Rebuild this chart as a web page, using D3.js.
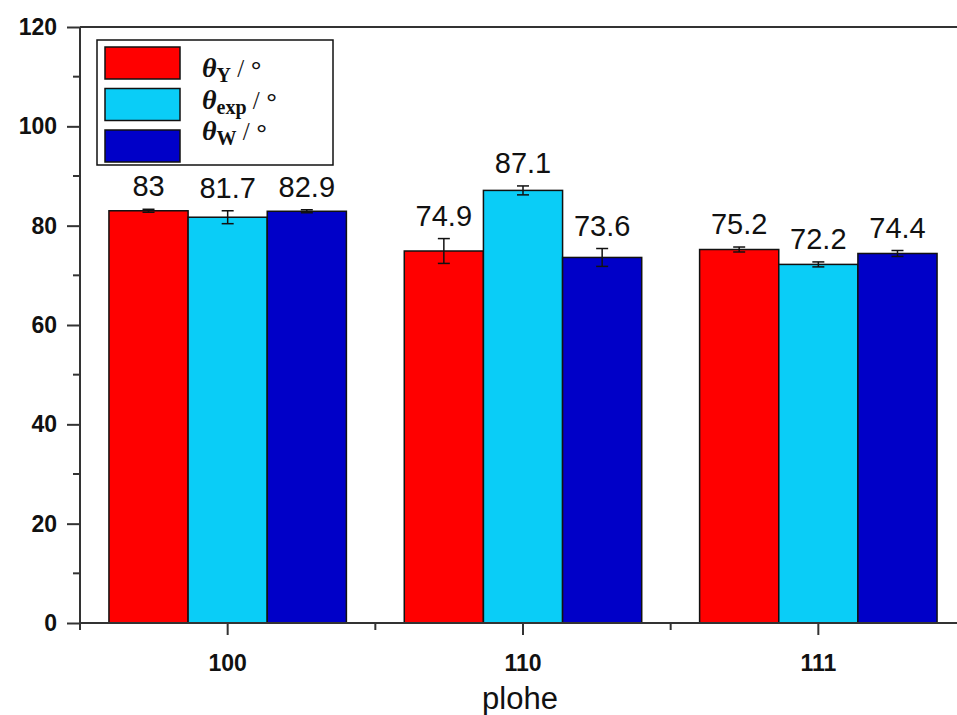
<!DOCTYPE html>
<html>
<head>
<meta charset="utf-8">
<script src="https://cdn.jsdelivr.net/npm/d3@7"></script>
<style>
  body { margin: 0; background: #fff; }
  svg { display: block; }
</style>
</head>
<body>
<svg width="957" height="715"></svg>
<script>
// Data
const categories = ["100", "110", "111"];
const seriesNames = ["Y", "exp", "W"];
const seriesColors = ["#ff0000", "#0acdf7", "#0000c8"];
const thetaY = [83, 74.9, 75.2];
const thetaExp = [81.7, 87.1, 72.2];
const thetaW = [82.9, 73.6, 74.4];
const errY = [0.3, 2.5, 0.5];
const errExp = [1.3, 0.9, 0.5];
const errW = [0.3, 1.8, 0.6];
const yTicks = [0, 20, 40, 60, 80, 100, 120];

const values = [thetaY, thetaExp, thetaW];
const errors = [errY, errExp, errW];

const svg = d3.select("svg");
const plotLeft = 80, plotTop = 27, plotBottom = 623, plotRight = 966;

const y = d3.scaleLinear().domain([0, 120]).range([plotBottom, plotTop]);
const x0 = d3.scaleBand().domain(categories).range([plotLeft, plotRight])
  .paddingInner(0.196).paddingOuter(0.098);
const x1 = d3.scaleBand().domain(seriesNames).range([0, x0.bandwidth()]);

// bars
const rows = [];
categories.forEach((c, i) => {
  seriesNames.forEach((s, j) => {
    rows.push({ c: c, s: s, j: j, v: values[j][i], e: errors[j][i] });
  });
});
const cx = d => x0(d.c) + x1(d.s) + x1.bandwidth() / 2;

const g = svg.append("g");
g.selectAll("rect.bar")
  .data(rows)
  .enter()
  .append("rect")
  .attr("class", "bar")
  .attr("x", d => x0(d.c) + x1(d.s))
  .attr("y", d => y(d.v))
  .attr("width", x1.bandwidth())
  .attr("height", d => y(0) - y(d.v))
  .attr("fill", d => seriesColors[d.j])
  .attr("stroke", "#111")
  .attr("stroke-width", 1.5);

// error bars
const eb = g.selectAll("g.err")
  .data(rows)
  .enter()
  .append("g")
  .attr("class", "err")
  .attr("stroke", "#111")
  .attr("stroke-width", 1.5);
eb.append("line")
  .attr("x1", cx).attr("x2", cx)
  .attr("y1", d => y(d.v + d.e))
  .attr("y2", d => y(d.v - d.e));
[1, -1].forEach(sign => {
  eb.append("line")
    .attr("x1", d => cx(d) - 6)
    .attr("x2", d => cx(d) + 6)
    .attr("y1", d => y(d.v + sign * d.e))
    .attr("y2", d => y(d.v + sign * d.e));
});

// value labels
g.selectAll("text.val")
  .data(rows)
  .enter()
  .append("text")
  .attr("class", "val")
  .attr("x", cx)
  .attr("y", d => y(d.v + d.e) - 13)
  .attr("text-anchor", "middle")
  .attr("font-family", "Liberation Sans, Arial, sans-serif")
  .attr("font-size", 29)
  .attr("fill", "#111")
  .text(d => d.v);

// axes
const axisColor = "#333";
const tickFont = sel => sel
  .attr("font-family", "Liberation Sans, Arial, sans-serif")
  .attr("font-weight", "bold")
  .attr("font-size", 23)
  .attr("fill", "#111");

const yAxis = svg.append("g")
  .attr("transform", `translate(${plotLeft},0)`)
  .call(d3.axisLeft(y).tickValues(yTicks).tickSize(13).tickPadding(10).tickFormat(d3.format("d")));
yAxis.select(".domain").remove();
yAxis.selectAll("line").attr("stroke", axisColor).attr("stroke-width", 2);
yAxis.selectAll("text").call(tickFont);

const minorY = d3.range(10, 120, 20);
svg.append("g").selectAll("line")
  .data(minorY)
  .enter()
  .append("line")
  .attr("x1", plotLeft - 7).attr("x2", plotLeft)
  .attr("y1", d => y(d)).attr("y2", d => y(d))
  .attr("stroke", axisColor).attr("stroke-width", 2);

// y axis line + top frame
svg.append("line")
  .attr("x1", plotLeft).attr("x2", plotLeft)
  .attr("y1", plotTop).attr("y2", plotBottom + 7)
  .attr("stroke", axisColor).attr("stroke-width", 2);
svg.append("line")
  .attr("x1", plotLeft).attr("x2", 957)
  .attr("y1", plotTop).attr("y2", plotTop)
  .attr("stroke", axisColor).attr("stroke-width", 2);

// x axis
const xAxis = svg.append("g")
  .attr("transform", `translate(0,${plotBottom})`)
  .call(d3.axisBottom(x0).tickSize(12).tickPadding(20));
xAxis.select(".domain").remove();
xAxis.selectAll("line").attr("stroke", axisColor).attr("stroke-width", 2);
xAxis.selectAll("text").call(tickFont);
svg.append("line")
  .attr("x1", plotLeft).attr("x2", 957)
  .attr("y1", plotBottom).attr("y2", plotBottom)
  .attr("stroke", axisColor).attr("stroke-width", 2);
const minorX = d3.range(1, categories.length + 1).map(i => plotLeft + i * x0.step());
svg.append("g").selectAll("line")
  .data(minorX)
  .enter()
  .append("line")
  .attr("x1", d => d).attr("x2", d => d)
  .attr("y1", plotBottom).attr("y2", plotBottom + 7)
  .attr("stroke", axisColor).attr("stroke-width", 2);

svg.append("text")
  .attr("x", x0("110") + x0.bandwidth() / 2 - 3)
  .attr("y", 709)
  .attr("text-anchor", "middle")
  .attr("font-family", "Liberation Sans, Arial, sans-serif")
  .attr("font-size", 31)
  .attr("fill", "#111")
  .text("plohe");

// legend
const legend = svg.append("g");
legend.append("rect")
  .attr("x", 97).attr("y", 40)
  .attr("width", 236).attr("height", 125)
  .attr("fill", "#fff")
  .attr("stroke", "#111")
  .attr("stroke-width", 1.5);
const item = legend.selectAll("g.item")
  .data(seriesNames)
  .enter()
  .append("g")
  .attr("class", "item");
item.append("rect")
  .attr("x", 105)
  .attr("y", (d, i) => 47 + i * 41.5)
  .attr("width", 75)
  .attr("height", 32)
  .attr("fill", (d, i) => seriesColors[i])
  .attr("stroke", "#111")
  .attr("stroke-width", 1.5);
const lt = item.append("text")
  .attr("x", 202)
  .attr("y", (d, i) => 77 + i * 31.5)
  .attr("font-family", "Liberation Serif, Times New Roman, serif")
  .attr("fill", "#111");
lt.append("tspan")
  .attr("font-size", 28)
  .attr("font-weight", "bold")
  .attr("font-style", "italic")
  .text("θ");
lt.append("tspan")
  .attr("font-size", 20)
  .attr("font-weight", "bold")
  .attr("dy", 5)
  .text(d => d);
lt.append("tspan")
  .attr("font-size", 25)
  .attr("dy", -5)
  .text(" / ");
lt.append("tspan")
  .attr("font-size", 28)
  .attr("font-family", "Liberation Sans, Arial, sans-serif")
  .attr("dy", 4)
  .text("°");
</script>
</body>
</html>
